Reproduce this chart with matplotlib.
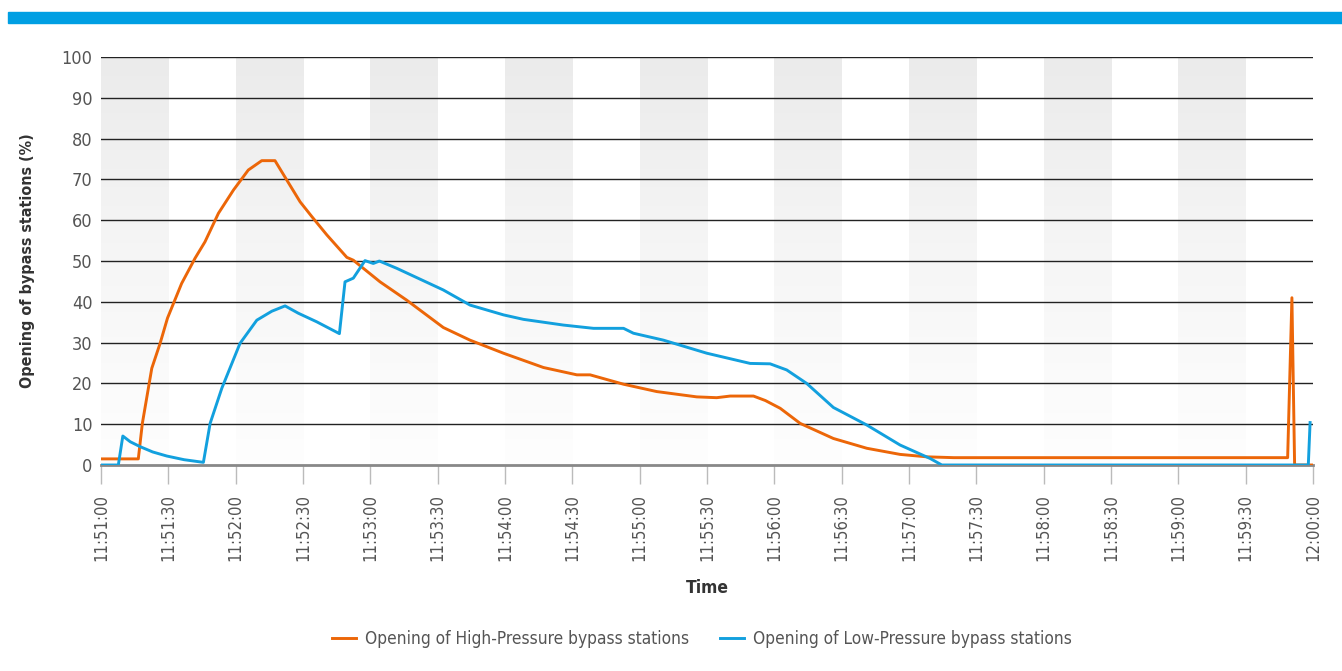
import numpy as np
import matplotlib.pyplot as plt
from matplotlib.colors import LinearSegmentedColormap

plt.rcParams['font.family'] = ['DejaVu Sans']
plt.rcParams['font.stretch'] = 'condensed'

# seconds since 11:51:00
hp_t = [0, 16.6, 18.4, 22.6, 26.3, 29.6, 35.9, 41.9, 46.3, 52.3, 59, 65.6, 71.6, 77.5,
        82.7, 88.7, 93.9, 100.6, 109.5, 112.4, 124.3, 136.2, 152.5, 164.4, 179.3, 197.1,
        212, 217.9, 232.8, 247.6, 265.4, 274.3, 280.3, 290.7, 296, 302.6, 311.5, 326.3,
        341.2, 356, 368, 380, 528.7, 530.6, 531.8, 540]
hp_val = [1.5, 1.5, 10.2, 23.7, 29.8, 36, 44.5, 50.7, 54.7, 61.7, 67.4, 72.3, 74.6, 74.6,
          69.9, 64.5, 60.9, 56.4, 50.9, 50.2, 44.9, 40.4, 33.7, 30.6, 27.4, 23.9,
          22.1, 22.1, 19.8, 18, 16.7, 16.5, 16.9, 16.9, 15.8, 13.9, 10.2, 6.5,
          4.1, 2.6, 2.0, 1.8, 1.8, 41, 0, 0]

lp_t = [0, 7.7, 9.7, 13, 17.4, 23, 29.3, 37, 45.6, 48.6, 53.8, 61.9, 69.4, 76.1, 82,
        87.9, 96.1, 106.2, 108.7, 112.4, 117.6, 121.3, 124, 131.8, 152.5, 164.4, 179.3,
        188.2, 206, 219.4, 232.8, 237.2, 250.6, 269.9, 289.2, 298.1, 305.5, 314.4, 326.3,
        341.2, 356, 369.4, 374.6, 537.9, 538.7]
lp_val = [0, 0, 7.1, 5.7, 4.5, 3.2, 2.2, 1.3, 0.65, 10.2, 18.8, 29.8, 35.5, 37.7, 39,
          37.2, 35.1, 32.2, 44.9, 45.8, 50.1, 49.4, 50, 48.2, 42.9, 39.2, 36.8,
          35.7, 34.3, 33.5, 33.5, 32.3, 30.6, 27.4, 24.9, 24.8, 23.3, 20, 14.1,
          9.8, 4.9, 1.6, 0, 0, 10.4]

tick_labels = ['11:51:00', '11:51:30', '11:52:00', '11:52:30', '11:53:00', '11:53:30',
               '11:54:00', '11:54:30', '11:55:00', '11:55:30', '11:56:00', '11:56:30',
               '11:57:00', '11:57:30', '11:58:00', '11:58:30', '11:59:00', '11:59:30',
               '12:00:00']

orange = '#EC6608'
blue = '#12A0DE'
grey_txt = '#555555'

fig = plt.figure(figsize=(13.42, 6.71), dpi=100)
ax = fig.add_axes([0.0753, 0.307, 0.9031, 0.608])

# top blue banner
fig.patches.append(plt.Rectangle((8 / 1342, 1 - 22.5 / 671), 1 - 8 / 1342, 10.5 / 671,
                                 transform=fig.transFigure, color='#009FE3', zorder=0))

# shaded bands, grey at the top fading to white
cmap = LinearSegmentedColormap.from_list('band', ['#FEFEFE', '#F6F6F6', '#EBEBEB'])
grad = np.linspace(0, 1, 256).reshape(-1, 1)
for i in range(0, 540, 60):
    ax.imshow(grad, extent=[i, i + 30, 0, 100], origin='lower', aspect='auto',
              cmap=cmap, zorder=0, interpolation='bilinear')

for y in range(10, 101, 10):
    ax.axhline(y, color='#222222', lw=1.0, zorder=1)

ax.plot(hp_t, hp_val, color=orange, lw=2.1, zorder=3,
        label='Opening of High-Pressure bypass stations')
ax.plot(lp_t, lp_val, color=blue, lw=2.1, zorder=3,
        label='Opening of Low-Pressure bypass stations')

ax.set_xlim(0, 540)
ax.set_ylim(0, 100)
ax.set_xticks(np.arange(0, 541, 30))
ax.set_xticklabels(tick_labels, rotation=90)
ax.set_yticks(np.arange(0, 101, 10))

for s in ['top', 'right', 'left']:
    ax.spines[s].set_visible(False)
ax.spines['bottom'].set_color('#888888')
ax.spines['bottom'].set_linewidth(2)
ax.spines['bottom'].set_zorder(2)

ax.tick_params(axis='x', length=14, width=1, color='#BBBBBB', labelsize=12,
               labelcolor=grey_txt, pad=7)
ax.tick_params(axis='y', length=0, labelsize=13, labelcolor=grey_txt, pad=6)

ax.set_xlabel('Time', fontsize=12.5, fontweight='bold', color='#333333', labelpad=13)
ax.set_ylabel('Opening of bypass stations (%)', fontsize=11.5, fontweight='bold',
              color='#333333', labelpad=19)

leg = fig.legend(loc='center', bbox_to_anchor=(0.523, 0.047), ncol=2, frameon=False,
                 fontsize=12.4, handlelength=1.4, columnspacing=1.8, handletextpad=0.5)
for t in leg.get_texts():
    t.set_color(grey_txt)

fig.savefig('out.png', dpi=100)
